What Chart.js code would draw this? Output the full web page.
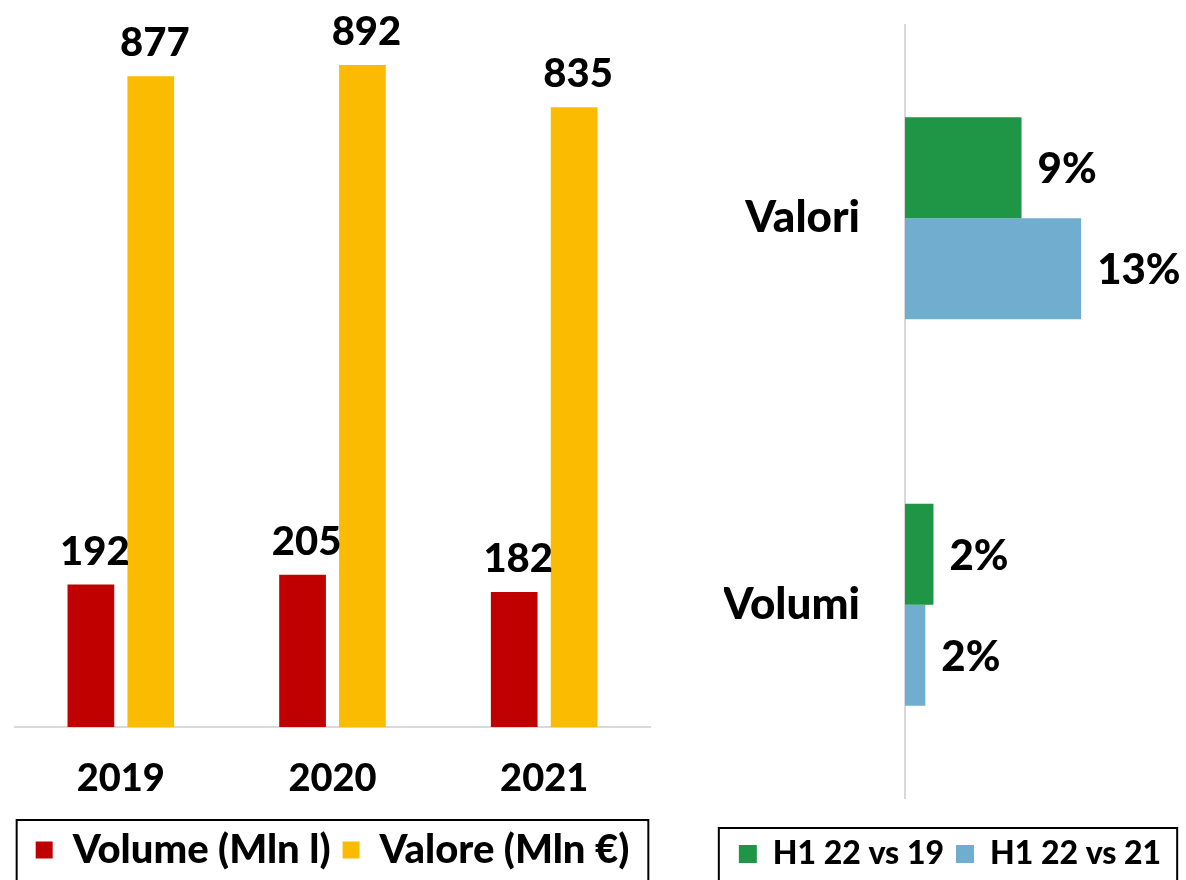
<!DOCTYPE html>
<html>
<head>
<meta charset="utf-8">
<script src="https://cdn.jsdelivr.net/npm/chart.js@4.4.1/dist/chart.umd.min.js"></script>
<style>
body { margin: 0; background: #fff; width: 1186px; height: 880px; overflow: hidden; position: relative; }
.box { position: absolute; top: 0; height: 880px; }
#left { left: 0; width: 660px; }
#right { left: 660px; width: 526px; }
</style>
</head>
<body>
<div class="box" id="left"><canvas id="yearsChart"></canvas></div>
<div class="box" id="right"><canvas id="growthChart"></canvas></div>
<script>
const years = ['2019', '2020', '2021'];
const volume = [192, 205, 182];
const valore = [877, 892, 835];

const growthLabels = ['Valori', 'Volumi'];
const vs19 = [8.6, 2.1];
const vs21 = [13.0, 1.5];

const FONT = '"Lato Black", Lato, "Open Sans", sans-serif';

// labels above / beside each bar
const valueLabels = {
    id: 'valueLabels',
    afterDatasetsDraw(chart, args, opts) {
        const ctx = chart.ctx;
        const horizontal = chart.options.indexAxis === 'y';
        ctx.save();
        ctx.font = opts.font;
        ctx.fillStyle = '#000';
        chart.data.datasets.forEach((ds, i) => {
            chart.getDatasetMeta(i).data.forEach((bar, j) => {
                const text = opts.format(ds.data[j]);
                if (horizontal) {
                    ctx.textAlign = 'left';
                    ctx.textBaseline = 'middle';
                    ctx.fillText(text, bar.x + opts.offset, bar.y + 2);
                } else {
                    ctx.textAlign = 'center';
                    ctx.textBaseline = 'alphabetic';
                    ctx.fillText(text, bar.x + opts.shift, bar.y - opts.offset);
                }
            });
        });
        ctx.restore();
    }
};

// black frame round the legend
const legendFrame = {
    id: 'legendFrame',
    afterDraw(chart, args, opts) {
        const boxes = chart.legend.legendHitBoxes;
        if (!boxes || !boxes.length) return;
        const left = Math.min(...boxes.map(b => b.left)) - opts.padLeft;
        const right = Math.max(...boxes.map(b => b.left + b.width)) + opts.padRight;
        const top = Math.min(...boxes.map(b => b.top)) - opts.padTop;
        const ctx = chart.ctx;
        ctx.save();
        ctx.strokeStyle = '#000';
        ctx.lineWidth = 2;
        ctx.strokeRect(left, top, right - left, chart.height - top + 10);
        ctx.restore();
    }
};

Chart.defaults.font.family = FONT;
Chart.defaults.font.weight = '900';
Chart.defaults.color = '#000';

new Chart(document.getElementById('yearsChart'), {
    type: 'bar',
    data: {
        labels: years,
        datasets: [
            { label: 'Volume (Mln l)', data: volume, backgroundColor: '#C00000' },
            { label: 'Valore (Mln €)', data: valore, backgroundColor: '#FABB00' }
        ]
    },
    options: {
        responsive: true,
        maintainAspectRatio: false,
        animation: false,
        layout: { padding: { top: 22, left: 15, right: 10, bottom: 0 } },
        datasets: { bar: { categoryPercentage: 0.566, barPercentage: 0.78 } },
        scales: {
            x: {
                grid: { display: false, drawTicks: false },
                border: { display: true, color: '#d9d9d9', width: 2 },
                ticks: { padding: 29, font: { size: 38, weight: '900' } },
                afterFit(scale) { scale.height = 91; }
            },
            y: { display: false, min: 0, max: 950 }
        },
        plugins: {
            tooltip: { enabled: false },
            legend: {
                position: 'bottom',
                labels: { boxWidth: 17, boxHeight: 17, padding: 12, font: { size: 40, weight: '900' } }
            },
            valueLabels: { font: '900 40px ' + FONT, offset: 20, shift: 4, format: v => String(v) },
            legendFrame: { padLeft: 19, padRight: 19, padTop: 10 }
        }
    },
    plugins: [valueLabels, legendFrame]
});

new Chart(document.getElementById('growthChart'), {
    type: 'bar',
    data: {
        labels: growthLabels,
        datasets: [
            { label: 'H1 22 vs 19', data: vs19, backgroundColor: '#1E9646' },
            { label: 'H1 22 vs 21', data: vs21, backgroundColor: '#71ADCF' }
        ]
    },
    options: {
        indexAxis: 'y',
        responsive: true,
        maintainAspectRatio: false,
        animation: false,
        layout: { padding: { top: 25, left: 64, right: 10, bottom: 0 } },
        datasets: { bar: { categoryPercentage: 0.523, barPercentage: 1.0 } },
        scales: {
            x: {
                min: 0, max: 20,
                grid: { display: false, drawTicks: false },
                border: { display: false },
                ticks: { display: false },
                afterFit(scale) { scale.height = 28; }
            },
            y: {
                grid: { display: false, drawTicks: false },
                border: { display: true, color: '#d9d9d9', width: 2 },
                ticks: { padding: 45, font: { size: 44, weight: '900' } },
                afterFit(scale) {
                    scale.width = 245 - 64;
                    scale.paddingTop = 0;
                    scale.paddingBottom = 0;
                }
            }
        },
        plugins: {
            tooltip: { enabled: false },
            legend: {
                position: 'bottom',
                labels: { boxWidth: 18, boxHeight: 18, padding: 12, font: { size: 32, weight: '900' } }
            },
            valueLabels: { font: '900 42px ' + FONT, offset: 16, format: v => Math.round(v) + '%' },
            legendFrame: { padLeft: 20, padRight: 16, padTop: 10 }
        }
    },
    plugins: [valueLabels, legendFrame]
});
</script>
</body>
</html>
